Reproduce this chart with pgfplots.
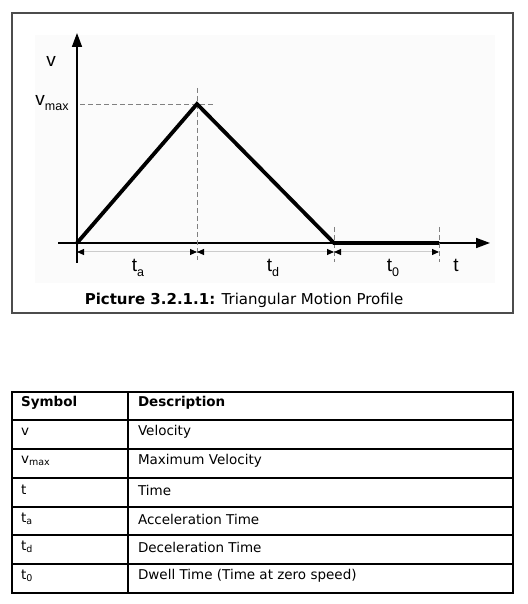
\documentclass[border=0pt]{standalone}
\usepackage{pgfplots}
\pgfplotsset{compat=1.18}
\usepackage{fontspec}
\setmainfont{DejaVu Sans}
\newfontfamily\arial{Liberation Sans}
\usetikzlibrary{arrows.meta}
\newcommand{\sub}[1]{\raisebox{-2.5pt}{\fontsize{9.5}{10}\selectfont #1}}
\newcommand{\dsub}[1]{\raisebox{-5pt}{\fontsize{12.5}{13}\selectfont #1}}
\begin{document}
\begin{tikzpicture}[x=1pt,y=1pt]
\fill[white] (0,0) rectangle (527,604);
\useasboundingbox (0,0) rectangle (527,604);
% diagram frame
\fill[black!1.5] (35,321) rectangle (495,569);
\draw[line width=1.2pt, black!70] (12,291) rectangle (513,591);
\begin{axis}[at={(77pt,361pt)}, anchor=origin, x=100pt, y=100pt,
  xmin=-0.19, xmax=4.13, ymin=-0.2, ymax=2.1,
  axis lines=middle,
  axis line style={line width=1.6pt, -{Triangle[length=14pt,width=10pt]}},
  xtick=\empty, ytick=\empty, clip=false]
% guide lines
\addplot[gray, line width=0.8pt, dash pattern=on 5pt off 3pt] coordinates {(0.03,1.39) (1.36,1.39)};
\addplot[gray, line width=0.8pt, dash pattern=on 5pt off 3pt] coordinates {(1.2,1.55) (1.2,-0.17)};
\addplot[gray, line width=0.8pt, dash pattern=on 5pt off 3pt] coordinates {(2.57,0.16) (2.57,-0.19)};
\addplot[gray, line width=0.8pt, dash pattern=on 5pt off 3pt] coordinates {(3.62,0.16) (3.62,-0.19)};
% dimension arrows
\addplot[black!20, line width=1pt, {Triangle[black,length=7pt,width=6pt]}-{Triangle[black,length=7pt,width=6pt]}] coordinates {(0,-0.09) (1.2,-0.09)};
\addplot[black!20, line width=1pt, {Triangle[black,length=7pt,width=6pt]}-{Triangle[black,length=7pt,width=6pt]}] coordinates {(1.2,-0.09) (2.57,-0.09)};
\addplot[black!20, line width=1pt, {Triangle[black,length=7pt,width=6pt]}-{Triangle[black,length=7pt,width=6pt]}] coordinates {(2.57,-0.09) (3.62,-0.09)};
% profile
\addplot[black, line width=3.8pt, line join=miter] coordinates {(0,0) (1.2,1.39) (2.57,0) (3.62,0)};
% labels
\node[font=\arial\fontsize{19}{19}\selectfont] at (axis cs:-0.26,1.82) {v};
\node[font=\arial\fontsize{19}{19}\selectfont] at (axis cs:-0.25,1.40) {v\dsub{max}};
\node[font=\arial\fontsize{19}{19}\selectfont] at (axis cs:0.61,-0.25) {t\dsub{a}};
\node[font=\arial\fontsize{19}{19}\selectfont] at (axis cs:1.96,-0.25) {t\dsub{d}};
\node[font=\arial\fontsize{19}{19}\selectfont] at (axis cs:3.16,-0.25) {t\dsub{0}};
\node[font=\arial\fontsize{19}{19}\selectfont] at (axis cs:3.79,-0.22) {t};
\end{axis}
% caption
\node[font=\fontsize{15}{17}\selectfont] at (244,304) {\textbf{Picture 3.2.1.1:} Triangular Motion Profile};
% table
\draw[line width=1.4pt] (12,184) -- (513,184);
\foreach \yy in {155,126,97,69,40} \draw[line width=1.1pt] (12,\yy) -- (513,\yy);
\draw[line width=1.1pt] (128,11) -- (128,212);
\draw[line width=2pt] (12,11) rectangle (513,212);
\begin{scope}[every node/.style={anchor=west, font=\fontsize{13.5}{15}\selectfont}]
\node at (17.5,201) {\textbf{Symbol}};
\node at (134.5,201) {\textbf{Description}};
\node at (17.5,172) {v};
\node at (134.5,172) {Velocity};
\node at (17.5,143) {v\sub{max}};
\node at (134.5,143) {Maximum Velocity};
\node at (17.5,114) {t};
\node at (134.5,114) {Time};
\node at (17.5,85) {t\sub{a}};
\node at (134.5,85) {Acceleration Time};
\node at (17.5,57) {t\sub{d}};
\node at (134.5,57) {Deceleration Time};
\node at (17.5,28) {t\sub{0}};
\node at (134.5,28) {Dwell Time (Time at zero speed)};
\end{scope}
\end{tikzpicture}
\end{document}
